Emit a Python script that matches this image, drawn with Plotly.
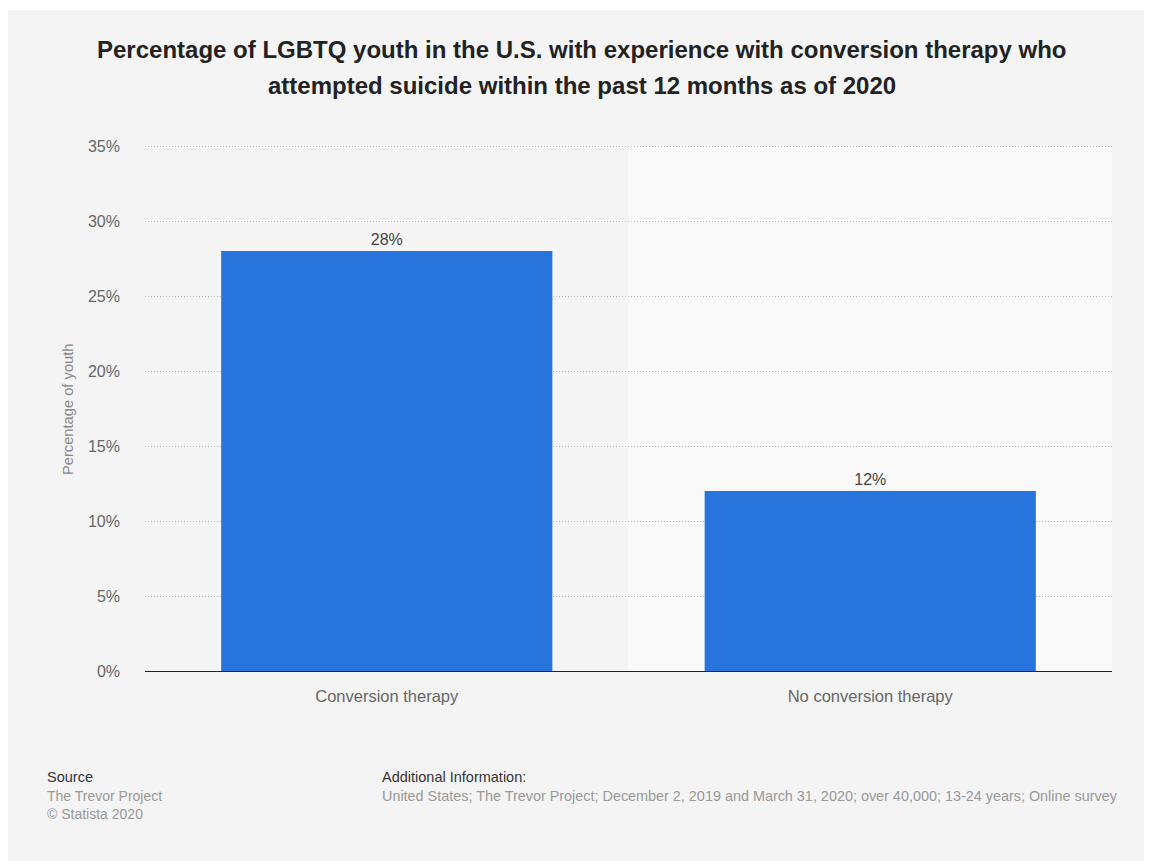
import plotly.graph_objects as go

categories = ["Conversion therapy", "No conversion therapy"]
values = [28, 12]
tick_vals = [0, 5, 10, 15, 20, 25, 30, 35]
tick_text = ["0%", "5%", "10%", "15%", "20%", "25%", "30%", "35%"]

# page has an 8px body margin; figure coordinates = reference - 8
OFF = 8
W, H = 1152 - OFF, 861 - OFF
L, T = 145 - OFF, 144 - OFF
R = 1152 - 1112
B = H - (671 - OFF)
PW, PH = W - L - R, H - T - B

def px(x):
    return (x - OFF - L) / PW

def py(y):
    return (H - B - (y - OFF)) / PH

FONT = "Liberation Sans, Arial, sans-serif"

fig = go.Figure()
fig.add_trace(go.Bar(
    x=categories, y=values,
    marker=dict(color="#2775dc", line=dict(width=0)),
    text=[f"{v}%" for v in values],
    textposition="outside",
    textfont=dict(size=16, color="#444444", family=FONT),
    cliponaxis=False,
    hoverinfo="skip",
))

shapes = [
    dict(type="rect", xref="paper", yref="paper", x0=0.5, x1=1, y0=0, y1=py(146),
         fillcolor="#f9f9f9", line=dict(width=0), layer="below"),
    dict(type="rect", xref="paper", yref="paper", x0=px(0), x1=px(1160), y0=py(10), y1=py(0),
         fillcolor="#ffffff", line=dict(width=0), layer="below"),
]

annotations = [
    dict(text="<b>Percentage of LGBTQ youth in the U.S. with experience with conversion therapy who</b>",
         x=px(582), y=py(49), xref="paper", yref="paper", showarrow=False,
         xanchor="center", yanchor="middle", font=dict(size=24, color="#222222", family=FONT)),
    dict(text="<b>attempted suicide within the past 12 months as of 2020</b>",
         x=px(582), y=py(86), xref="paper", yref="paper", showarrow=False,
         xanchor="center", yanchor="middle", font=dict(size=24, color="#222222", family=FONT)),
    dict(text="Source", x=px(45), y=py(777), xref="paper", yref="paper", showarrow=False,
         xanchor="left", yanchor="middle", font=dict(size=14.5, color="#333333", family=FONT)),
    dict(text="The Trevor Project", x=px(45), y=py(796), xref="paper", yref="paper", showarrow=False,
         xanchor="left", yanchor="middle", font=dict(size=14, color="#999999", family=FONT)),
    dict(text="© Statista 2020", x=px(45), y=py(814), xref="paper", yref="paper", showarrow=False,
         xanchor="left", yanchor="middle", font=dict(size=14, color="#999999", family=FONT)),
    dict(text="Additional Information:", x=px(380), y=py(777), xref="paper", yref="paper", showarrow=False,
         xanchor="left", yanchor="middle", font=dict(size=14.5, color="#333333", family=FONT)),
    dict(text="United States; The Trevor Project; December 2, 2019 and March 31, 2020; over 40,000; 13-24 years; Online survey",
         x=px(380), y=py(796), xref="paper", yref="paper", showarrow=False,
         xanchor="left", yanchor="middle", font=dict(size=14.4, color="#999999", family=FONT)),
    dict(text="Percentage of youth", x=px(68), y=py(410), xref="paper", yref="paper", showarrow=False,
         textangle=-90, xanchor="center", yanchor="middle",
         font=dict(size=14.7, color="#888888", family=FONT)),
]

fig.update_layout(
    width=W, height=H,
    margin=dict(l=L, r=R, t=T, b=B, pad=0),
    paper_bgcolor="#f4f4f4",
    plot_bgcolor="#f4f4f4",
    font=dict(family=FONT),
    bargap=0.315,
    showlegend=False,
    shapes=shapes,
    annotations=annotations,
    xaxis=dict(
        showgrid=False, zeroline=False, showline=False,
        tickfont=dict(size=16.5, color="#666666", family=FONT),
        ticks="", ticklabelstandoff=13,
        fixedrange=True,
    ),
    yaxis=dict(
        range=[0, 35.14],
        tickvals=tick_vals, ticktext=tick_text,
        tickfont=dict(size=16, color="#666666", family=FONT),
        ticks="", ticklabelstandoff=24,
        showgrid=True, gridcolor="#bdbdbd", griddash="1px,2px", gridwidth=1,
        zeroline=True, zerolinecolor="#222222", zerolinewidth=1.2,
        showline=False, fixedrange=True,
    ),
)

fig.write_html("out.html")
